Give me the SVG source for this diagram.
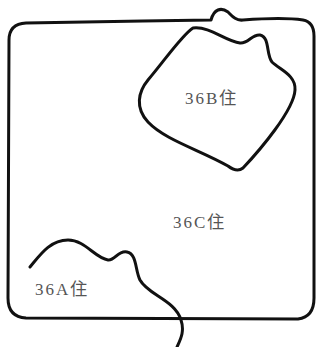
<svg xmlns="http://www.w3.org/2000/svg" width="320" height="347" viewBox="0 0 320 347">
<style>
.l{fill:none;stroke:#111;stroke-width:3;stroke-linecap:round;stroke-linejoin:round}
.t{font-family:"Liberation Serif","Noto Sans CJK JP",serif;font-size:17px;fill:#555;letter-spacing:2px}
</style>
<rect width="320" height="347" fill="#fff"/>
<g id="zone-36C">
<path class="l" d="M9 40 Q9 24 26 23 C80 22 150 21 211 20 C214 9 221 7 228 12 C232 16 236 21 243 20 C270 18 290 18 303 20 Q314 22 314 36 L314 298 Q314 317 298 319 L26 318 Q8 317 8 298 Z"/>
<text class="t" x="173" y="228">36C住</text>
</g>
<g id="zone-36B">
<path class="l" d="M193 28 C210 26 225 41 240 43 C248 44 252 34 260 35 C270 37 266 55 272 62 C280 70 296 75 295 90 C294 110 260 150 243 168 C238 172 232 169 228 166 C200 150 165 140 148 122 C135 108 138 92 148 80 C165 60 182 35 193 28 Z"/>
<text class="t" x="185" y="104">36B住</text>
</g>
<g id="zone-36A">
<path class="l" d="M30 267 C40 255 50 240 68 240 C85 240 95 258 108 260 C115 261 118 250 127 252 C137 254 135 270 140 280 C148 295 175 300 181 320 C185 332 180 340 177 347"/>
<text class="t" x="35" y="295">36A住</text>
</g>
</svg>
